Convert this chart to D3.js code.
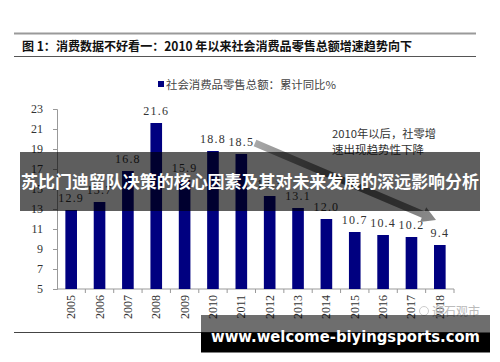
<!DOCTYPE html>
<html>
<head>
<meta charset="utf-8">
<script src="https://cdn.jsdelivr.net/npm/d3@7"></script>
<style>
  body { margin: 0; background: #fff; }
  svg { display: block; }
</style>
</head>
<body>
<div id="chart"></div>
<script>
// Chart data
const years = ["2005", "2006", "2007", "2008", "2009", "2010", "2011",
  "2012", "2013", "2014", "2015", "2016", "2017", "2018"];
const growth = [12.9, 13.7, 16.8, 21.6, 15.9, 18.8, 18.5,
  14.3, 13.1, 12.0, 10.7, 10.4, 10.2, 9.4];
const yTicks = [5, 7, 9, 11, 13, 15, 17, 19, 21, 23];

const title = "图 1：消费数据不好看一：2010 年以来社会消费品零售总额增速趋势向下";
const legendText = "社会消费品零售总额：累计同比%";
const noteLines = ["2010年以后，社零增", "速出现趋势性下降"];
const bannerText = "苏比门迪留队决策的核心因素及其对未来发展的深远影响分析";
const siteText = "www.welcome-biyingsports.com";

const W = 500, H = 362;
const margin = { left: 57, right: 46, top: 109, bottom: 73 };
const serif = "'Liberation Serif', 'DejaVu Serif', serif";
const cjk = "'Noto Sans CJK SC', sans-serif";

const svg = d3.select("#chart").append("svg")
  .attr("width", W).attr("height", H);

// Header rules and title
svg.append("line").attr("x1", 14).attr("x2", 476).attr("y1", 33.5).attr("y2", 33.5)
  .attr("stroke", "#9a9a9a").attr("stroke-width", 2);
svg.append("line").attr("x1", 14).attr("x2", 476).attr("y1", 56.5).attr("y2", 56.5)
  .attr("stroke", "#555").attr("stroke-width", 1);
svg.append("text").attr("x", 22).attr("y", 51)
  .attr("font-family", cjk).attr("font-weight", "bold").attr("font-size", 12.5)
  .attr("fill", "#111").attr("textLength", 390).attr("lengthAdjust", "spacingAndGlyphs")
  .text(title);

// Legend
svg.append("rect").attr("x", 158).attr("y", 81).attr("width", 6).attr("height", 6)
  .attr("fill", "#000080");
svg.append("text").attr("x", 166).attr("y", 89)
  .attr("font-family", cjk).attr("font-size", 11).attr("fill", "#444")
  .attr("textLength", 170).attr("lengthAdjust", "spacingAndGlyphs")
  .text(legendText);

// Scales
const x = d3.scaleBand().domain(years)
  .range([margin.left, W - margin.right]).paddingInner(0.59).paddingOuter(0.295);
const y = d3.scaleLinear().domain([5, 23]).range([H - margin.bottom, margin.top]);

const xBounds = d3.scaleBand().domain(years).range([margin.left, W - margin.right]);

// Y axis
const yAxis = svg.append("g")
  .attr("transform", `translate(${margin.left},0)`)
  .call(d3.axisLeft(y).tickValues(yTicks).tickSize(4).tickPadding(10));
yAxis.select(".domain").attr("stroke", "#999");
yAxis.selectAll(".tick line").attr("stroke", "#999");
yAxis.selectAll(".tick text").attr("font-family", serif).attr("font-size", 12)
  .attr("fill", "#333");

// X axis: domain line plus ticks at category boundaries
const xAxisG = svg.append("g").attr("transform", `translate(0,${y(5)})`);
xAxisG.append("line").attr("x1", margin.left).attr("x2", W - margin.right)
  .attr("stroke", "#999");
xAxisG.selectAll("line.tk")
  .data(years.slice(1).concat(["end"]))
  .enter().append("line").attr("class", "tk")
  .attr("x1", (d, i) => xBounds(years[i]) + xBounds.bandwidth())
  .attr("x2", (d, i) => xBounds(years[i]) + xBounds.bandwidth())
  .attr("y1", 0).attr("y2", 4).attr("stroke", "#999");
xAxisG.selectAll("text.yr")
  .data(years).enter().append("text").attr("class", "yr")
  .attr("transform", d => `translate(${x(d) + x.bandwidth() / 2 + 4},6) rotate(-90)`)
  .attr("text-anchor", "end")
  .attr("font-family", serif).attr("font-size", 12).attr("fill", "#333")
  .text(d => d);

// Bars
svg.append("g").selectAll("rect")
  .data(years).enter().append("rect")
  .attr("x", d => x(d))
  .attr("width", x.bandwidth())
  .attr("y", (d, i) => y(growth[i]))
  .attr("height", (d, i) => y(5) - y(growth[i]))
  .attr("fill", "#000080");

// Value labels
svg.append("g").selectAll("text")
  .data(years).enter().append("text")
  .attr("x", d => x(d) + x.bandwidth() / 2)
  .attr("y", (d, i) => y(growth[i]) - 8)
  .attr("text-anchor", "middle")
  .attr("font-family", serif).attr("font-size", 12).attr("fill", "#333")
  .attr("letter-spacing", 1.2)
  .text((d, i) => growth[i].toFixed(1));

// Trend arrow
const defs = svg.append("defs");
const grad = defs.append("linearGradient").attr("id", "arrowGrad")
  .attr("x1", "0%").attr("x2", "100%");
grad.append("stop").attr("offset", "0%").attr("stop-color", "#a8a8a8");
grad.append("stop").attr("offset", "50%").attr("stop-color", "#6a6a6a");
grad.append("stop").attr("offset", "100%").attr("stop-color", "#8a8a8a");

const ax0 = 255, ay0 = 143, ax1 = 436, ay1 = 220;
const ang = Math.atan2(ay1 - ay0, ax1 - ax0);
const len = Math.hypot(ax1 - ax0, ay1 - ay0);
const shaft = 3.5, head = 8, headLen = 14;
svg.append("path")
  .attr("transform", `translate(${ax0},${ay0}) rotate(${ang * 180 / Math.PI})`)
  .attr("d", `M0,${-shaft} L${len - headLen},${-shaft} L${len - headLen},${-head}
    L${len},0 L${len - headLen},${head} L${len - headLen},${shaft} L0,${shaft} Z`)
  .attr("fill", "url(#arrowGrad)");

// Annotation
svg.append("g").selectAll("text")
  .data(noteLines).enter().append("text")
  .attr("x", 332).attr("y", (d, i) => 138 + i * 16)
  .attr("font-family", cjk).attr("font-size", 11).attr("fill", "#333")
  .attr("textLength", (d, i) => i === 0 ? 104 : 92).attr("lengthAdjust", "spacingAndGlyphs")
  .text(d => d);

// Watermark
const wm = svg.append("g").attr("fill", "#bbb");
wm.append("circle").attr("cx", 424).attr("cy", 311).attr("r", 4.5)
  .attr("fill", "none").attr("stroke", "#ccc");
wm.append("text").attr("x", 432).attr("y", 316)
  .attr("font-family", cjk).attr("font-size", 12).text("迎石观市");

// Bottom rule
svg.append("line").attr("x1", 14).attr("x2", 476).attr("y1", 332.5).attr("y2", 332.5)
  .attr("stroke", "#444");

// Overlay banner
svg.append("rect").attr("x", 20).attr("y", 152).attr("width", 460).attr("height", 59)
  .attr("fill", "rgba(0,0,0,0.63)");
svg.append("text").attr("x", 250).attr("y", 188)
  .attr("text-anchor", "middle")
  .attr("font-family", cjk).attr("font-weight", "bold").attr("font-size", 17)
  .attr("fill", "#fff").attr("textLength", 458).attr("lengthAdjust", "spacingAndGlyphs")
  .text(bannerText);

// Site banner
svg.append("rect").attr("x", 201).attr("y", 315).attr("width", 289).attr("height", 18)
  .attr("fill", "rgba(0,0,0,0.57)");
svg.append("rect").attr("x", 201).attr("y", 332.5).attr("width", 289).attr("height", 20)
  .attr("fill", "#000");
svg.append("text").attr("x", 211).attr("y", 342)
  .attr("font-family", "'DejaVu Sans', sans-serif").attr("font-weight", "bold")
  .attr("font-size", 16).attr("fill", "#fff")
  .attr("textLength", 269).attr("lengthAdjust", "spacingAndGlyphs")
  .text(siteText);
</script>
</body>
</html>
